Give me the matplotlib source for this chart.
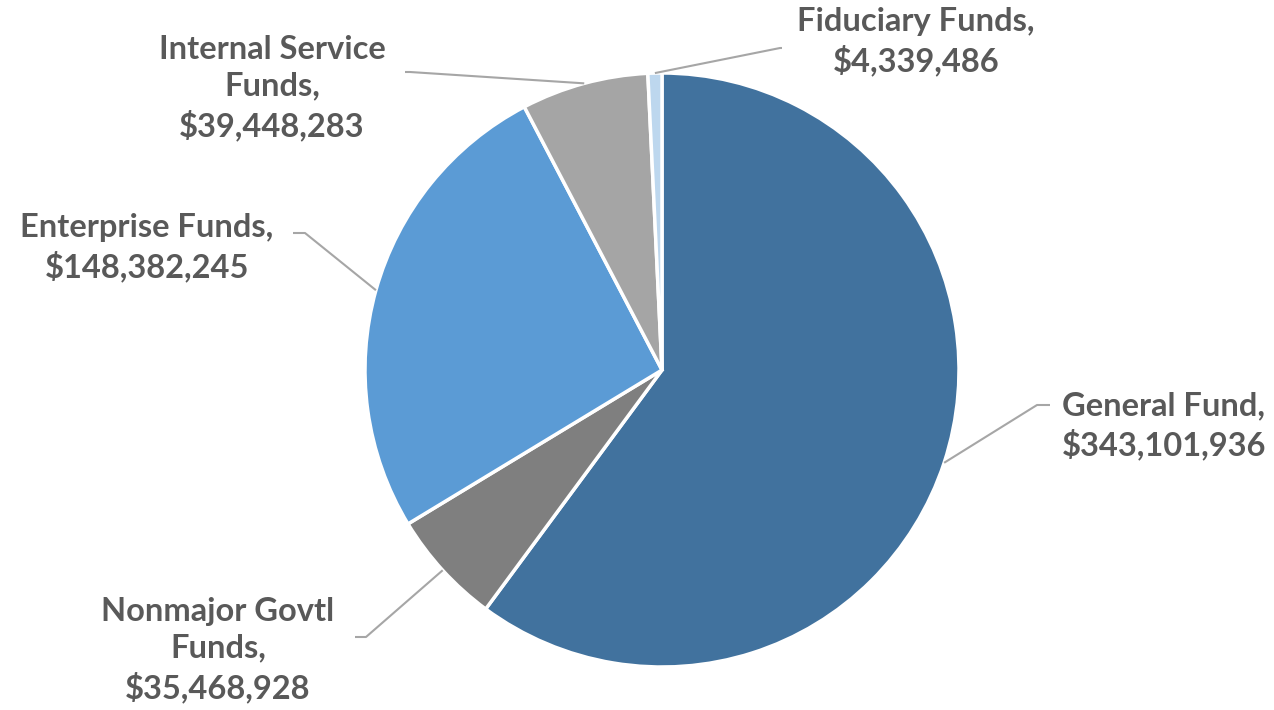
import matplotlib

matplotlib.use("Agg")
import matplotlib.pyplot as plt
import numpy as np

W, H, DPI = 1274, 710, 100
CX, CY, R = 662, 370, 297  # pie centre and radius in pixels

funds = ["General Fund", "Nonmajor Govtl\nFunds", "Enterprise Funds",
         "Internal Service\nFunds", "Fiduciary Funds"]
amounts = [343101936, 35468928, 148382245, 39448283, 4339486]
colors = ["#41729E", "#7F7F7F", "#5B9BD5", "#A5A5A5", "#BDD7EE"]

# label layout in pixels: (elbow x, elbow y, end x, text x, text y)
layout = [
    (1037, 405, 1050, 1164, 426),
    (366, 637, 355, 218, 650),
    (305, 233, 293, 147, 248),
    (410, 72, 405, 272, 88),
    (780, 48, 782, 916, 42),
]


def to_data(px, py):
    return (px - CX) / R, (CY - py) / R


plt.rcParams["font.family"] = ["Lato", "DejaVu Sans"]
fig = plt.figure(figsize=(W / DPI, H / DPI), dpi=DPI)
ax = fig.add_axes([0, 0, 1, 1])
wedges, _ = ax.pie(amounts, colors=colors, startangle=90, counterclock=False,
                   radius=1.0, wedgeprops=dict(edgecolor="white", linewidth=2.5))
ax.set_xlim(-CX / R, (W - CX) / R)
ax.set_ylim(-(H - CY) / R, CY / R)
ax.set_aspect("equal")
ax.axis("off")

for w, name, amt, (ex, ey, hx, tx, ty) in zip(wedges, funds, amounts, layout):
    mid = np.deg2rad((w.theta1 + w.theta2) / 2)
    sx, sy = np.cos(mid), np.sin(mid)
    exd, eyd = to_data(ex, ey)
    hxd, _ = to_data(hx, ey)
    ax.plot([sx, exd, hxd], [sy, eyd, eyd], color="#A6A6A6", lw=1.5,
            solid_capstyle="butt", zorder=1)
    txd, tyd = to_data(tx, ty)
    ax.text(txd, tyd, f"{name},\n${amt:,}", ha="center", va="center",
            fontsize=23.5, fontweight="bold", color="#595959", linespacing=1.32)

fig.savefig("out.png", dpi=DPI)
